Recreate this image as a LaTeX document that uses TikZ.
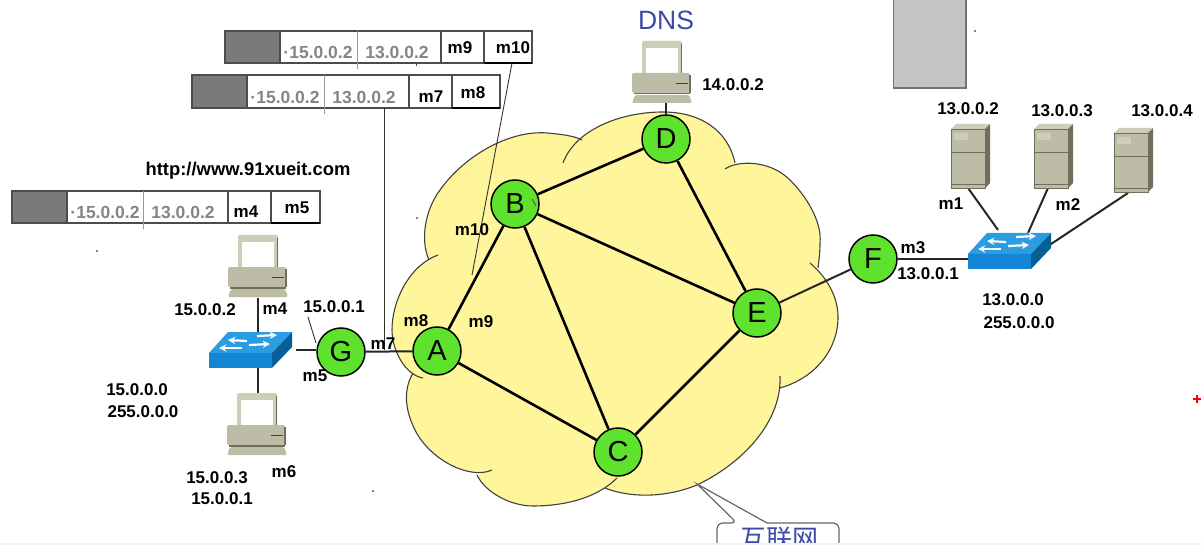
\documentclass[tikz,border=0pt]{standalone}
\usepackage{fontspec}
\setmainfont{Liberation Sans}
\newfontfamily\cjkfont{Noto Sans CJK SC}
\definecolor{cloudfill}{HTML}{FFF59A}
\definecolor{routerg}{HTML}{5FE22D}
\definecolor{bluetxt}{HTML}{3C4AA8}
\definecolor{pcbody}{HTML}{BDBCA6}
\definecolor{pclight}{HTML}{CFCDB8}
\definecolor{pcdark}{HTML}{6F6F5C}
\definecolor{swfront}{HTML}{1285D4}
\definecolor{swtop}{HTML}{2A9CE2}
\definecolor{swside}{HTML}{05609A}
\definecolor{cellgray}{HTML}{7A7A7A}
\definecolor{iptxt}{HTML}{858585}
\newcommand\defLobe[2]{%
  \expandafter\newcommand\csname lobe#1\endcsname{#2}%
  \expandafter\newcommand\csname tolobe#1\endcsname{-- #2}}
\defLobe{A}{(563,163) .. controls (575,130) and (620,112) .. (663,112) .. controls (700,112) and (728,130) .. (735,163)}
\defLobe{B}{(725,169) .. controls (738,160) and (770,160) .. (790,180) .. controls (810,200) and (822,225) .. (820,243) .. controls (820,252) and (819,260) .. (818,268)}
\defLobe{C}{(810,263) .. controls (830,280) and (838,300) .. (838,317) .. controls (838,350) and (815,378) .. (780,388)}
\defLobe{D}{(780,376) .. controls (782,420) and (745,462) .. (697,485) .. controls (665,498) and (630,498) .. (605,488)}
\defLobe{E}{(617,478) .. controls (595,500) and (560,506) .. (533,506) .. controls (510,506) and (485,492) .. (477,475)}
\defLobe{F}{(492,470) .. controls (470,480) and (430,460) .. (415,430) .. controls (405,410) and (403,390) .. (413,373)}
\defLobe{G}{(423,378) .. controls (405,375) and (392,350) .. (392,330) .. controls (392,300) and (410,265) .. (438,255)}
\defLobe{H}{(429,260) .. controls (420,240) and (425,210) .. (440,190) .. controls (465,155) and (510,130) .. (547,133) .. controls (560,134) and (575,136) .. (582,140)}
\tikzset{
  x=1pt,y=-1pt,
  router/.style={circle,draw=black,line width=1.5pt,fill=routerg,minimum size=48pt,inner sep=0pt,font=\fontsize{29}{29}\selectfont},
  lab/.style={inner sep=0pt,font=\fontsize{17}{17}\bfseries\selectfont},
  iplab/.style={inner sep=0pt,text=iptxt,font=\fontsize{17.5}{17.5}\bfseries\selectfont},
  link/.style={line width=2.6pt,black},
  wire/.style={line width=2pt,black!85},
  thin wire/.style={line width=0.9pt,black!80},
  cloudline/.style={black!75,line width=1.1pt},
  cellbox/.style={draw=black!70,line width=1.4pt,fill=white},
  pcicon/.pic={
    \fill[pclight,rounded corners=2pt] (-20,0) rectangle (20,33);
    \fill[pcdark] (18.5,3) rectangle (20,33);
    \fill[white] (-16,7) rectangle (16,32);
    \fill[pcbody,rounded corners=2pt] (-30,32) rectangle (28,52);
    \fill[pcdark] (-28,52) rectangle (28,53.5);
    \fill[pcdark] (27,34) rectangle (28.5,52);
    \draw[pcdark!60!black,line width=0.8pt] (14,42) -- (26,42);
    \fill[pcbody,rounded corners=1.5pt] (-27,54) -- (27,54) -- (30,62) -- (-30,62) -- cycle;
  },
  serverbox/.pic={
    \fill[pclight] (0,5) -- (5,0) -- (39,0) -- (34,5) -- cycle;
    \fill[pcdark] (34,5) -- (39,0) -- (39,59) -- (34,64) -- cycle;
    \fill[pcbody] (0,5) rectangle (34,64);
    \draw[pcdark,line width=0.7pt] (0,5) rectangle (34,64);
    \draw[pcdark,line width=0.9pt] (0,28) -- (34,28) (0,60) -- (34,60);
    \fill[pclight] (3,9) rectangle (17,16);
  },
  netswitch/.pic={
    \fill[swfront] (0,0) rectangle (63,15);
    \fill[swtop] (0,0) -- (19,-21) -- (83,-21) -- (63,0) -- cycle;
    \fill[swside] (63,0) -- (83,-21) -- (83,-6) -- (63,15) -- cycle;
    \draw[white,line width=2.2pt,-stealth] (38,-12) -- (19,-13);
    \draw[white,line width=2.2pt,-stealth] (48,-17) -- (68,-18);
    \draw[white,line width=2.2pt,-stealth] (33,-5) -- (10,-5);
    \draw[white,line width=2.2pt,-stealth] (40,-8) -- (61,-9);
  }
}
\begin{document}
\begin{tikzpicture}
\useasboundingbox (0,0) rectangle (1201,545);
\clip (0,0) rectangle (1201,545);
\fill[white] (0,0) rectangle (1201,545);
% cloud
\fill[cloudfill] \lobeA \tolobeB \tolobeC \tolobeD \tolobeE \tolobeF \tolobeG \tolobeH -- cycle;
\draw[cloudline] \lobeA;
\draw[cloudline] \lobeB;
\draw[cloudline] \lobeC;
\draw[cloudline] \lobeD;
\draw[cloudline] \lobeE;
\draw[cloudline] \lobeF;
\draw[cloudline] \lobeG;
\draw[cloudline] \lobeH;
% grey block
\draw[draw=black!55,line width=1.5pt,fill=black!23] (893.5,-3) rectangle (966,88);
% anchors
\coordinate (pcT) at (258,298);
\coordinate (swLtop) at (258,332);
\coordinate (swLbot) at (258,368);
\coordinate (pcB) at (258,393);
\coordinate (swLr) at (296,350);
\coordinate (pcD) at (666,102);
\coordinate (swRl) at (968,259);
\coordinate (s1) at (968,188);
\coordinate (s1e) at (998,230);
\coordinate (s2) at (1048,188);
\coordinate (s2e) at (1028,233);
\coordinate (s3) at (1128,193);
\coordinate (s3e) at (1048,246);
% routers
\node[router] (A) at (437,351) {A};
\node[router] (B) at (515,204) {B};
\node[router] (C) at (618,452) {C};
\node[router] (D) at (666,139) {D};
\node[router] (E) at (757,313) {E};
\node[router] (F) at (873,259) {F};
\node[router] (G) at (341,352) {G};
% links
\draw[link] (A) -- (B);
\draw[link] (A) -- (C);
\draw[link] (B) -- (C);
\draw[link] (B) -- (D);
\draw[link] (B) -- (E);
\draw[link] (D) -- (E);
\draw[link] (C) -- (E);
\draw[wire] (E) -- (F);
\draw[wire] (G) -- (A);
\draw[wire] (swLr) -- (G.west |- swLr);
\draw[wire] (F) -- (F.center -| swRl);
\draw[wire] (pcD) -- (D);
\draw[wire] (pcT) -- (swLtop);
\draw[wire] (swLbot) -- (pcB);
\draw[wire] (s1) -- (s1e);
\draw[wire] (s2) -- (s2e);
\draw[wire] (s3) -- (s3e);
\draw[line width=0.8pt,black!70] (532,199) -- (536,206);
% equipment
\pic at (258,235) {pcicon};
\pic at (257,393) {pcicon};
\pic at (662,41) {pcicon};
\pic at (209,353) {netswitch};
\pic at (968,254) {netswitch};
\pic at (951,124) {serverbox};
\pic at (1034,124) {serverbox};
\pic at (1114,128) {serverbox};
% frame rows
\foreach \xa/\xb/\xc/\xd/\xe/\xf/\ya/\yb in {12/67/143/228/271/320/191/223,192/247/324/409/452/500/75/108,225/280/357/441/484/532/31/63}{
  \draw[cellbox] (\xa,\ya) rectangle (\xf,\yb);
  \fill[cellgray] (\xa,\ya) rectangle (\xb,\yb);
  \draw[black!70,line width=1.4pt] (\xa,\ya) rectangle (\xf,\yb);
  \draw[black!40,line width=1pt] (\xc,\ya) -- (\xc,\yb+6);
  \draw[black!70,line width=1.2pt] (\xb,\ya) -- (\xb,\yb) (\xd,\ya) -- (\xd,\yb) (\xe,\ya) -- (\xe,\yb);
  \draw[black,line width=1.5pt] (\xe,\yb) -- (\xf,\yb);
}
\node[iplab] (ip1a) at (105,212) {·15.0.0.2};
\node[iplab] (ip1b) at (183,212) {13.0.0.2};
\node[lab] (f1a) at (246,212) {m4};
\node[lab] (f1b) at (297,208) {m5};
\node[iplab] (ip2a) at (285,97) {·15.0.0.2};
\node[iplab] (ip2b) at (364,97) {13.0.0.2};
\node[lab] (f2a) at (431,97) {m7};
\node[lab] (f2b) at (473,93) {m8};
\node[iplab] (ip3a) at (318,52) {·15.0.0.2};
\node[iplab] (ip3b) at (397,52) {13.0.0.2};
\node[lab] (f3a) at (460,48) {m9};
\node[lab] (f3b) at (513,48) {m10};
% thin pointers
\coordinate (b2out) at (384,108);
\coordinate (b2end) at (384,350);
\coordinate (b3out) at (512,63);
\coordinate (b3end) at (472,275);
\coordinate (ptrA) at (308,317);
\coordinate (ptrB) at (316,343);
\draw[thin wire] (b2out) -- (b2end);
\draw[thin wire] (b3out) -- (b3end);
\draw[thin wire] (ptrA) -- (ptrB);
\draw[black!70,line width=0.8pt] (416,62) -- (416,66);
% labels
\node[lab,font=\fontsize{18.4}{18.4}\bfseries\selectfont] (url) at (248,171) {http://www.91xueit.com};
\node[lab] (l1) at (205,310) {15.0.0.2};
\node[lab] (l2) at (275,309) {m4};
\node[lab] (l3) at (334,307) {15.0.0.1};
\node[lab] (l4) at (137,390) {15.0.0.0};
\node[lab] (l5) at (143,412) {255.0.0.0};
\node[lab] (l6) at (315,376) {m5};
\node[lab] (l7) at (284,472) {m6};
\node[lab] (l8) at (217,478) {15.0.0.3};
\node[lab] (l9) at (222,499) {15.0.0.1};
\node[lab] (l10) at (383,344) {m7};
\node[lab] (l11) at (416,321) {m8};
\node[lab] (l12) at (481,322) {m9};
\node[lab] (l13) at (472,230) {m10};
\node[inner sep=0pt,text=bluetxt,font=\fontsize{26.5}{26.5}\selectfont] (dns) at (666,20) {DNS};
\node[lab] (l14) at (733,85) {14.0.0.2};
\node[lab] (l15) at (968,109) {13.0.0.2};
\node[lab] (l16) at (1062,111) {13.0.0.3};
\node[lab] (l17) at (1162,111) {13.0.0.4};
\node[lab] (l18) at (951,204) {m1};
\node[lab] (l19) at (1068,205) {m2};
\node[lab] (l20) at (913,248) {m3};
\node[lab] (l21) at (928,274) {13.0.0.1};
\node[lab] (l22) at (1013,300) {13.0.0.0};
\node[lab] (l23) at (1019,323) {255.0.0.0};
% callout
\draw[black!60,line width=1.2pt,fill=white,rounded corners=6pt] (717,565) -- (717,523) -- (737,523) [sharp corners] -- (697,484) -- (767,523) [rounded corners=6pt] -- (839,523) -- (839,565);
\node[inner sep=0pt,text=bluetxt,font=\cjkfont\fontsize{26}{26}\selectfont] (net) at (779,539) {互联网};
\fill[black!6] (0,543) rectangle (1201,546);
% specks
\fill[black] (97,251) circle (0.9);
\fill[black] (975,31) circle (0.9);
\fill[black] (373,491) circle (0.9);
\fill[black] (417,218) circle (0.9);
\draw[red,line width=1.4pt] (1193,399) -- (1201,399) (1197,395) -- (1197,403);
\end{tikzpicture}
\end{document}
